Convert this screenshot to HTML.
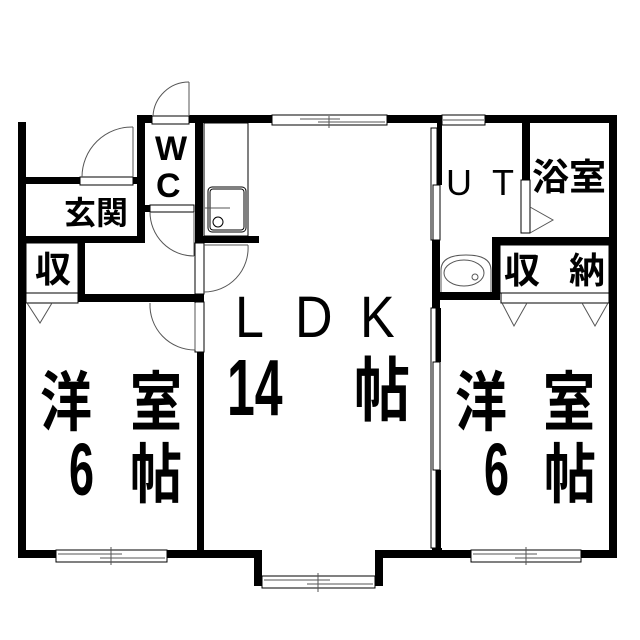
<!DOCTYPE html>
<html><head><meta charset="utf-8"><style>
html,body{margin:0;padding:0;background:#fff;}
svg{display:block;}
.t{font-family:"Liberation Sans","Noto Sans CJK JP",sans-serif;fill:#000;}
</style></head><body>
<svg width="640" height="640" viewBox="0 0 640 640" xmlns="http://www.w3.org/2000/svg">
<g fill="#000">
<rect x="18" y="122" width="8" height="436"/>
<rect x="18" y="550" width="38" height="8"/>
<rect x="167" y="550" width="92" height="8"/>
<rect x="254" y="550" width="8" height="36"/>
<rect x="375" y="550" width="8" height="36"/>
<rect x="375" y="550" width="96" height="8"/>
<rect x="581" y="550" width="36" height="8"/>
<rect x="609" y="115" width="8" height="443"/>
<rect x="137" y="115" width="15" height="8"/>
<rect x="189" y="115" width="83" height="8"/>
<rect x="387" y="115" width="55" height="8"/>
<rect x="485" y="115" width="132" height="8"/>
<rect x="137" y="115" width="8" height="128"/>
<rect x="195" y="115" width="8" height="128"/>
<rect x="18" y="177" width="62" height="7"/>
<rect x="133" y="177" width="10" height="7"/>
<rect x="18" y="236" width="127" height="7"/>
<rect x="78" y="236" width="7" height="66"/>
<rect x="78" y="294" width="126" height="8"/>
<rect x="145" y="205" width="5" height="7"/>
<rect x="195" y="236" width="64" height="7"/>
<rect x="197" y="352" width="7" height="206"/>
<rect x="437" y="115" width="5" height="70"/>
<rect x="432" y="240" width="8" height="68"/>
<rect x="436" y="308" width="5" height="54"/>
<rect x="436" y="470" width="5" height="88"/>
<rect x="432" y="548" width="10" height="10"/>
<rect x="522" y="115" width="8" height="65"/>
<rect x="492" y="237" width="125" height="8"/>
<rect x="492" y="237" width="8" height="63"/>
<rect x="432" y="292" width="68" height="8"/>
</g>
<g fill="#fff" stroke="#000" stroke-width="1">
<rect x="272" y="115" width="115" height="10"/>
<rect x="442" y="115" width="43" height="10"/>
<rect x="56" y="550" width="111" height="12"/>
<rect x="471" y="550" width="110" height="12"/>
<rect x="262" y="576" width="113" height="12"/>
<rect x="152" y="116" width="37" height="8"/>
<rect x="80" y="177" width="53" height="8"/>
<rect x="150" y="205" width="44" height="7"/>
<rect x="195" y="243" width="9" height="51"/>
<rect x="195" y="302" width="9" height="50"/>
<rect x="26" y="293" width="52" height="10"/>
<rect x="501" y="293" width="108" height="10"/>
<rect x="521" y="180" width="9" height="53"/>
<rect x="431" y="128" width="6" height="112"/>
<rect x="433" y="185" width="7" height="55"/>
<rect x="431" y="308" width="5" height="240"/>
<rect x="433" y="362" width="7" height="108"/>
<rect x="204" y="123" width="44" height="113" fill="none"/>
<rect x="208" y="187" width="38" height="45" rx="4"/>
<rect x="210" y="189" width="34" height="41" rx="3" fill="none"/>
<circle cx="218" cy="222" r="5"/>
<rect x="26" y="243" width="52" height="50" fill="none"/>
<rect x="500" y="245" width="109" height="48" fill="none"/>
</g>
<g fill="none" stroke="#555" stroke-width="1">
<line x1="329" y1="116" x2="329" y2="128"/><line x1="300" y1="119" x2="340" y2="119"/><line x1="318" y1="122" x2="385" y2="122"/>
<line x1="111" y1="547" x2="111" y2="565"/><line x1="58" y1="554" x2="122" y2="554"/><line x1="100" y1="558" x2="165" y2="558"/>
<line x1="526" y1="547" x2="526" y2="565"/><line x1="473" y1="554" x2="537" y2="554"/><line x1="515" y1="558" x2="580" y2="558"/>
<line x1="318" y1="573" x2="318" y2="592"/><line x1="264" y1="580" x2="330" y2="580"/><line x1="307" y1="584" x2="373" y2="584"/>
<line x1="443" y1="120" x2="484" y2="120"/>
<line x1="205" y1="208" x2="230" y2="208"/>
<path d="M189 82 A36 36 0 0 0 153 116"/><line x1="189" y1="82" x2="189" y2="116"/>
<path d="M133 127 A50 50 0 0 0 82 177"/><line x1="133" y1="127" x2="133" y2="177"/>
<path d="M150 212 A44 44 0 0 0 194 256"/><line x1="194" y1="212" x2="194" y2="256"/>
<path d="M248 245 A44 44 0 0 1 204 292"/><line x1="204" y1="245" x2="248" y2="245"/>
<path d="M150 303 A45 45 0 0 0 195 350"/><line x1="195" y1="303" x2="195" y2="350"/>
<path d="M27 303 L40 323 L52 303"/>
<path d="M502 303 L514 326 L527 303"/>
<path d="M582 303 L595 326 L608 303"/>
<path d="M530 207 L553 220 L530 233"/>
<path d="M441 292 L441 270 Q441 255 466 255 Q491 255 491 270 L491 292"/>
<ellipse cx="464" cy="273" rx="20" ry="13"/>
<circle cx="475" cy="277" r="3"/>
</g>
<g class="t">
<text x="155" y="160" font-size="34" font-weight="bold">W</text>
<text x="156" y="197" font-size="34" font-weight="bold">C</text>
<text x="64" y="224" font-size="32" font-weight="bold">玄関</text>
<text x="35" y="282" font-size="36" font-weight="bold">収</text>
<text x="446" y="195" font-size="36">U</text>
<text x="492" y="195" font-size="36">T</text>
<text x="532" y="190" font-size="37" font-weight="bold">浴室</text>
<text x="504" y="283" font-size="36" font-weight="bold">収</text>
<text x="569" y="283" font-size="36" font-weight="bold">納</text>
<g transform="translate(0,337) scale(1,1.13)">
<text x="235" y="0" font-size="52">L</text>
<text x="295" y="0" font-size="52">D</text>
<text x="360" y="0" font-size="52">K</text>
</g>
<g transform="translate(0,415) scale(1,1.6)"><text x="227" y="0" font-size="50" font-weight="bold">14</text></g>
<g transform="translate(0,415) scale(1,1.25)"><text x="354" y="0" font-size="56" font-weight="bold">帖</text></g>
<g transform="translate(0,425) scale(1,1.25)" font-weight="bold">
<text x="40" y="0" font-size="52">洋</text><text x="130" y="0" font-size="52">室</text>
<text x="455" y="0" font-size="52">洋</text><text x="543" y="0" font-size="52">室</text>
</g>
<g transform="translate(0,495) scale(1,1.65)" font-weight="bold">
<text x="69" y="0" font-size="45">6</text><text x="484" y="0" font-size="45">6</text>
</g>
<g transform="translate(0,497) scale(1,1.25)" font-weight="bold">
<text x="130" y="0" font-size="52">帖</text><text x="544" y="0" font-size="52">帖</text>
</g>
</g>
</svg>
</body></html>
